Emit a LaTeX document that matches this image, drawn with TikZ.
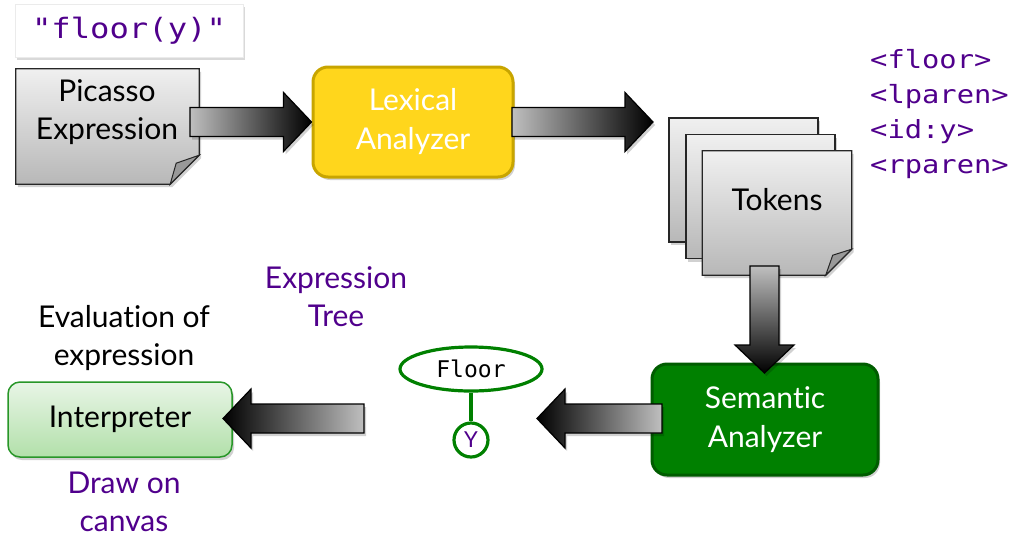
\documentclass[tikz,border=0pt]{standalone}
\usepackage{fontspec}
\setmainfont{Lato}[Ligatures=NoCommon]
\newfontfamily\codefont[FakeStretch=1.15]{DejaVu Sans Mono}
\newfontfamily\plainmono{DejaVu Sans Mono}
\usetikzlibrary{calc,shapes.geometric,shadows}
\definecolor{vio}{RGB}{80,0,140}
\definecolor{lexfill}{RGB}{255,214,28}
\definecolor{lexdraw}{RGB}{200,165,0}
\definecolor{semfill}{RGB}{0,128,0}
\definecolor{semdraw}{RGB}{0,92,0}
\definecolor{intop}{RGB}{232,245,230}
\definecolor{inbot}{RGB}{178,224,170}
\definecolor{indraw}{RGB}{40,150,40}
\definecolor{treegreen}{RGB}{0,128,0}
\newcommand\blockarrow[3]{%
  \coordinate (ba-h) at ($(#3)!28pt!(#2)$);
  \draw[barrow,#1] ($(#2)!14.5pt!90:(#3)$) -- ($(ba-h)!14.5pt!90:(#3)$) -- ($(ba-h)!29.5pt!90:(#3)$) -- (#3)
    -- ($(ba-h)!29.5pt!-90:(#3)$) -- ($(ba-h)!14.5pt!-90:(#3)$) -- ($(#2)!14.5pt!-90:(#3)$) -- cycle;}
\begin{document}
\begin{tikzpicture}[x=1pt,y=-1pt,
  shad/.style={drop shadow={shadow xshift=2pt,shadow yshift=-3pt,opacity=0.18,fill=black}},
  lbl/.style={font=\fontsize{30}{38}\selectfont,align=center,inner sep=0pt},
  docfill/.style={draw=black!85,line width=1.2pt,top color=black!6,bottom color=black!28,shad},
  foldfill/.style={draw=black!85,line width=1pt,fill=black!40},
  docnode/.style={inner sep=0pt,minimum width=149,minimum height=124},
  barrow/.style={draw=black,line width=1.2pt,shad},
  rbox/.style={rounded corners=15pt,line width=3pt,inner sep=0pt,align=center,
     font=\fontsize{30}{39}\selectfont,shad},
  tree/.style={draw=treegreen,line width=3.2pt,inner sep=0pt,fill=white},
]
\useasboundingbox (0,0) rectangle (1016,536);

% quoted source string
\node[fill=white,draw=black!8,line width=0.6pt,minimum width=228,minimum height=53,inner sep=0pt,
      drop shadow={shadow xshift=1.5pt,shadow yshift=-2.5pt,opacity=0.15,fill=black},
      font=\codefont\fontsize{28}{30}\selectfont,text=vio] (quote) at (129,30.5) {"floor(y)"};

% Picasso expression document
\node[inner sep=0pt,minimum width=183,minimum height=115] (pic) at (107.5,126.5) {};
\path[docfill] (pic.north west) -- (pic.north east) -- ($(pic.south east)+(0,-29)$)
   -- ($(pic.south east)+(-29,0)$) -- (pic.south west) -- cycle;
\path[foldfill] ($(pic.south east)+(-29,0)$) -- ($(pic.south east)+(-23,-21)$) -- ($(pic.south east)+(0,-29)$) -- cycle;
\node[lbl] (pictxt) at (107,112) {Picasso\\Expression};

% Lexical analyzer
\node[rbox,draw=lexdraw,fill=lexfill,text=white,minimum width=200,minimum height=110] (lex) at (413,122) {Lexical\\Analyzer};

% Tokens stack
\node[docnode,docfill] (tokb) at (743.5,180) {};
\node[docnode,docfill] (tokm) at (760.5,196.5) {};
\node[docnode] (tok) at (777,213) {};
\path[docfill] (tok.north west) -- (tok.north east) -- ($(tok.south east)+(0,-26)$)
   -- ($(tok.south east)+(-26,0)$) -- (tok.south west) -- cycle;
\path[foldfill] ($(tok.south east)+(-26,0)$) -- ($(tok.south east)+(-19,-20)$) -- ($(tok.south east)+(0,-26)$) -- cycle;
\node[lbl] (toktxt) at (777,200) {Tokens};

% token list
\node[anchor=west,inner sep=0pt,align=left,text=vio,
      font=\codefont\fontsize{25}{35}\selectfont] (toklist) at (870,114.5)
      {<floor>\\<lparen>\\<id:y>\\<rparen>};

% Semantic analyzer
\node[rbox,draw=semdraw,fill=semfill,text=white,minimum width=226,minimum height=111] (sem) at (765,419.5) {Semantic\\Analyzer};

% Expression tree
\node[lbl,text=vio] (exptree) at (336,297) {Expression\\Tree};
\node[tree,ellipse,minimum width=142,minimum height=44,font=\plainmono\fontsize{23}{26}\selectfont] (floor) at (471,369) {Floor};
\node[tree,circle,minimum size=34,text=vio,font=\fontsize{22}{24}\selectfont] (yleaf) at (471,440) {Y};
\draw[draw=treegreen,line width=3.2pt] (floor.south) -- (yleaf.north);

% Interpreter
\node[rbox,rounded corners=12pt,line width=1.5pt,draw=indraw,top color=intop,bottom color=inbot,
      minimum width=224,minimum height=75] (interp) at (120,419.5) {Interpreter};
\node[lbl] (evaltxt) at (124,338) {Evaluation of\\expression};
\node[lbl,text=vio] (drawtxt) at (124,502) {Draw on\\canvas};

% block arrows
\coordinate (a1s) at (190,122);
\blockarrow{left color=black!25,right color=black}{a1s}{lex.west}
\coordinate (a2s) at (512,122);
\coordinate (a2t) at (653,122);
\blockarrow{left color=black!25,right color=black}{a2s}{a2t}
\coordinate (a3s) at (764.5,266);
\coordinate (a3t) at (764.5,373);
\blockarrow{top color=black!25,bottom color=black}{a3s}{a3t}
\coordinate (a4s) at (662,418.5);
\coordinate (a4t) at (537,418.5);
\blockarrow{left color=black,right color=black!25}{a4s}{a4t}
\coordinate (a5s) at (364,418.5);
\coordinate (a5t) at (223,418.5);
\blockarrow{left color=black,right color=black!25}{a5s}{a5t}
\end{tikzpicture}
\end{document}
